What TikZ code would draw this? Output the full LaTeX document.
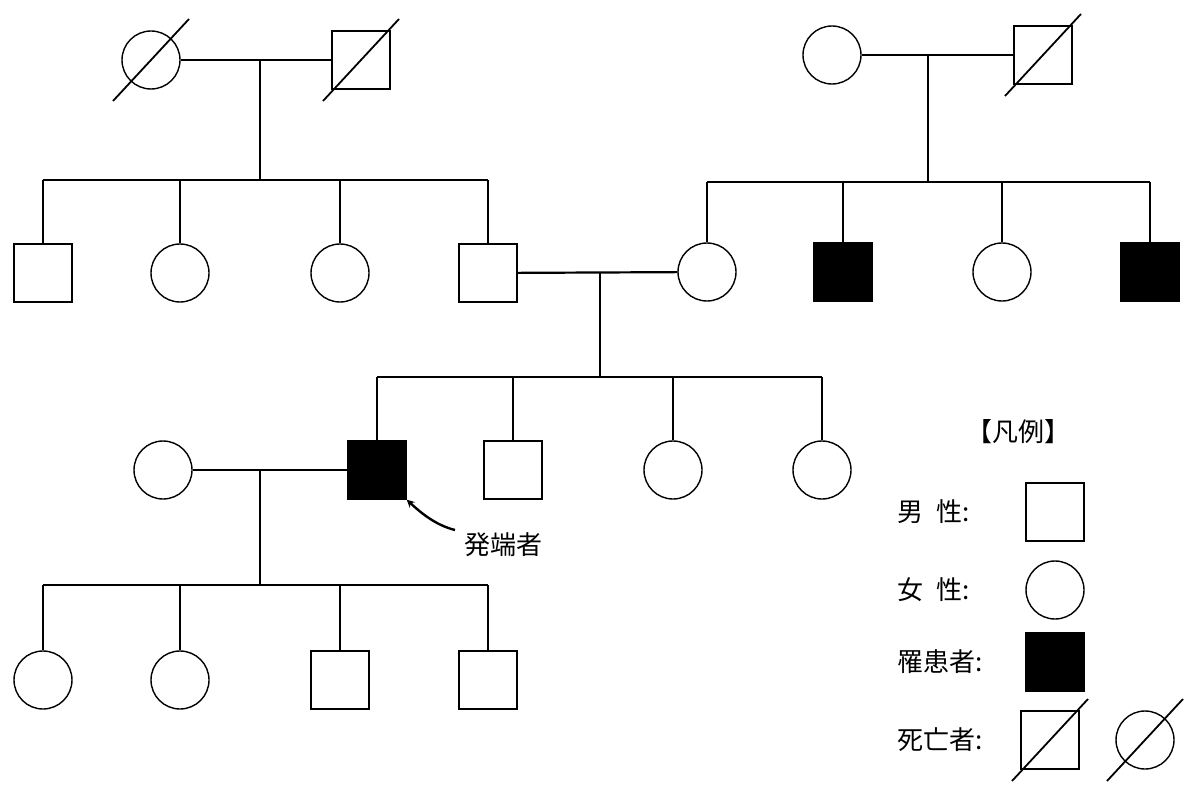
\documentclass[tikz,border=0pt]{standalone}
\usepackage{fontspec}
\usetikzlibrary{calc}
\setmainfont{Noto Sans CJK JP}
\begin{document}
\begin{tikzpicture}[x=1pt,y=-1pt,line width=2.2pt,
 m/.style={draw,minimum size=58pt,inner sep=0pt,line width=1.4pt},
 f/.style={draw,circle,minimum size=58pt,inner sep=0pt,line width=1.4pt},
 a/.style={m,fill=black},
 slash/.style={line width=1.8pt},
 t/.style={font=\fontsize{26}{26}\selectfont,anchor=west}]
\useasboundingbox (0,0) rectangle (1197,797);
\newcommand\deadmark[1]{\draw[slash] ($(#1)+(-38,41)$) -- ($(#1)+(38,-41)$);}
% gen1 left
\node[f] (g1) at (151,60) {};
\node[m] (g2) at (361,60) {};
\draw (g1) -- (g2);
\draw (260,60) -- (260,180);
\draw (43,180) -- (488,180);
\node[m] (a1) at (43,273) {};
\node[f] (a2) at (180,273) {};
\node[f] (a3) at (340,273) {};
\node[m] (a4) at (488,273) {};
\foreach \x/\n in {43/a1,180/a2,340/a3,488/a4} \draw (\x,180) -- (\n);
% gen1 right
\node[f] (h1) at (832,55) {};
\node[m] (h2) at (1043,55) {};
\draw (h1) -- (h2);
\draw (928,55) -- (928,182);
\draw (707,182) -- (1150,182);
\node[f] (b1) at (707,272) {};
\node[a] (b2) at (843,272) {};
\node[f] (b3) at (1002,272) {};
\node[a] (b4) at (1150,272) {};
\foreach \x/\n in {707/b1,843/b2,1002/b3,1150/b4} \draw (\x,182) -- (\n);
% marriage
\draw (a4) -- (b1);
\draw (600,272) -- (600,377);
\draw (377,377) -- (822,377);
\node[a] (p) at (377,470) {};
\node[m] (c2) at (513,470) {};
\node[f] (c3) at (673,470) {};
\node[f] (c4) at (822,470) {};
\foreach \x/\n in {377/p,513/c2,673/c3,822/c4} \draw (\x,377) -- (\n);
\node[f] (w) at (163,470) {};
\draw (w) -- (p);
\draw (260,470) -- (260,585);
\draw (43,585) -- (488,585);
\node[f] (d1) at (43,680) {};
\node[f] (d2) at (180,680) {};
\node[m] (d3) at (340,680) {};
\node[m] (d4) at (488,680) {};
\foreach \x/\n in {43/d1,180/d2,340/d3,488/d4} \draw (\x,585) -- (\n);
% proband
\node[t] (lbl) at (460,545) {発端者};
\draw[->,>=stealth,line width=2.4pt] (455,530) .. controls (435,525) and (420,512) .. (p.south east);
% legend
\node[t] at (962,432) {【凡例】};
\node[t] at (893,512) {男\hspace{0.5em}性:};
\node[m] (l1) at (1055,512) {};
\node[t] at (893,590) {女\hspace{0.5em}性:};
\node[f] (l2) at (1055,590) {};
\node[t] at (893,662) {罹患者:};
\node[a] (l3) at (1055,662) {};
\node[t] at (893,740) {死亡者:};
\node[m] (l4) at (1050,740) {};
\node[f] (l5) at (1145,740) {};
\deadmark{g1}\deadmark{g2}\deadmark{h2}\deadmark{l4}\deadmark{l5}
\end{tikzpicture}
\end{document}
